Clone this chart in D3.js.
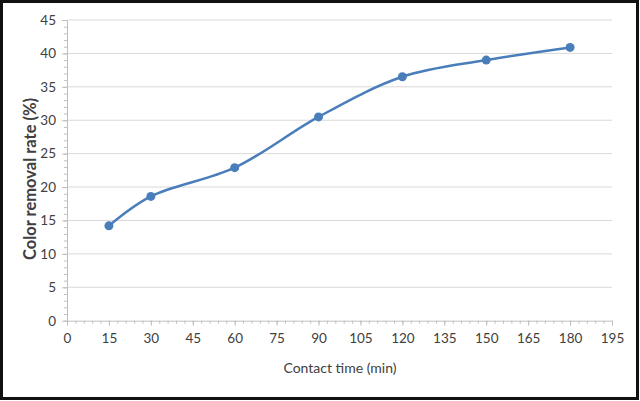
<!DOCTYPE html>
<html>
<head>
<meta charset="utf-8">
<script src="https://cdn.jsdelivr.net/npm/d3@7"></script>
<style>
  body { margin: 0; background: #fff; }
  text { font-family: Lato, "Open Sans", sans-serif; fill: #404040; }
</style>
</head>
<body>
<div id="chart"></div>
<script>
// contact time (min) and colour removal (%)
const contactTimes = [15, 30, 60, 90, 120, 150, 180];
const removalRates = [14.2, 18.6, 22.9, 30.5, 36.5, 39.0, 40.9];
const xTicks = d3.range(0, 196, 15);
const yTicks = d3.range(0, 46, 5);

const width = 640, height = 401;
const margin = { top: 20, right: 28, bottom: 80, left: 67 };
const innerW = 612 - margin.left;
const innerH = 320.7 - margin.top;

const svg = d3.select("#chart").append("svg")
  .attr("width", width)
  .attr("height", height);

// outer frame
svg.append("rect")
  .attr("x", 1.5).attr("y", 1.5)
  .attr("width", 636).attr("height", 397)
  .attr("fill", "#fff")
  .attr("stroke", "#111")
  .attr("stroke-width", 3);

const g = svg.append("g")
  .attr("transform", `translate(${margin.left},${margin.top})`);

const x = d3.scaleLinear().domain([0, 195]).range([0, innerW]);
const y = d3.scaleLinear().domain([0, 45]).range([innerH, 0]);

// gridlines
g.append("g")
  .selectAll("line")
  .data(yTicks.filter(d => d > 0))
  .join("line")
  .attr("x1", 0).attr("x2", innerW)
  .attr("y1", d => y(d)).attr("y2", d => y(d))
  .attr("stroke", "#d9d9d9")
  .attr("stroke-width", 1);

// minor ticks
const xMinor = d3.range(0, 196, 3);
const yMinor = d3.range(0, 46, 1);
g.append("g")
  .attr("transform", `translate(0,${innerH})`)
  .call(d3.axisBottom(x).tickValues(xMinor).tickSize(3).tickFormat(""))
  .call(a => a.select(".domain").remove())
  .call(a => a.selectAll("line").attr("stroke", "#bfbfbf"));
g.append("g")
  .call(d3.axisLeft(y).tickValues(yMinor).tickSize(3).tickFormat(""))
  .call(a => a.select(".domain").remove())
  .call(a => a.selectAll("line").attr("stroke", "#bfbfbf"));

// x axis
g.append("g")
  .attr("transform", `translate(0,${innerH})`)
  .call(d3.axisBottom(x).tickValues(xTicks).tickSize(5).tickSizeOuter(0).tickPadding(8))
  .call(a => a.select(".domain").attr("stroke", "#bfbfbf"))
  .call(a => a.selectAll("line").attr("stroke", "#bfbfbf"))
  .call(a => a.selectAll("text").style("font-size", "13.5px").attr("fill", "#404040"));

// y axis
g.append("g")
  .call(d3.axisLeft(y).tickValues(yTicks).tickSize(5).tickSizeOuter(0).tickPadding(6))
  .call(a => a.select(".domain").attr("stroke", "#bfbfbf"))
  .call(a => a.selectAll("line").attr("stroke", "#bfbfbf"))
  .call(a => a.selectAll("text").style("font-size", "13.5px").attr("fill", "#404040"));

// axis titles
svg.append("text")
  .attr("x", 340).attr("y", 373)
  .attr("text-anchor", "middle")
  .style("font-size", "14px")
  .text("Contact time (min)");

svg.append("text")
  .attr("transform", "translate(36,179) rotate(-90)")
  .attr("text-anchor", "middle")
  .style("font-size", "16.5px")
  .style("font-weight", "bold")
  .text("Color removal rate (%)");

// smoothed series
const pts = contactTimes.map((t, i) => [t, removalRates[i]]);
const line = d3.line()
  .x(d => x(d[0]))
  .y(d => y(d[1]))
  .curve(d3.curveCatmullRom.alpha(0.5));

g.append("path")
  .datum(pts)
  .attr("d", line)
  .attr("fill", "none")
  .attr("stroke", "#4a7ebb")
  .attr("stroke-width", 2.5);

g.selectAll("circle")
  .data(pts)
  .join("circle")
  .attr("cx", d => x(d[0]))
  .attr("cy", d => y(d[1]))
  .attr("r", 4.5)
  .attr("fill", "#4a7ebb");
</script>
</body>
</html>
